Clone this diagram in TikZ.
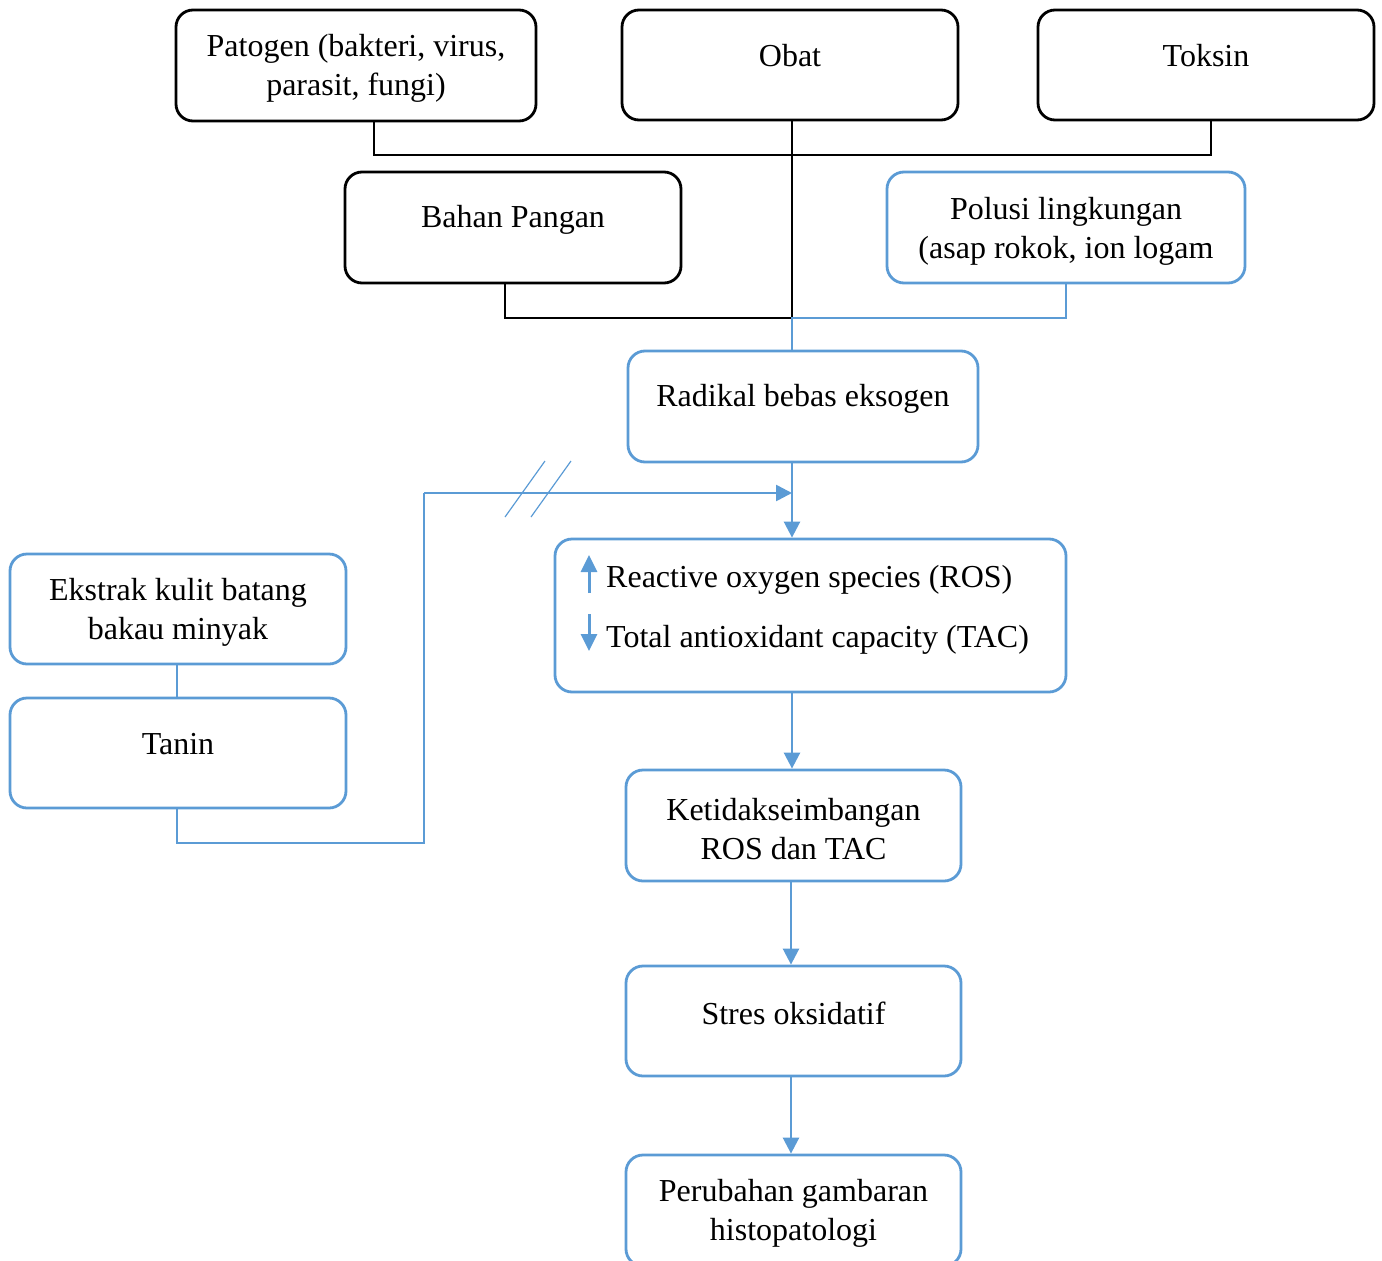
\documentclass[tikz,border=0pt]{standalone}
\usepackage{fontspec}
\setmainfont{Liberation Serif}
\usetikzlibrary{arrows.meta,calc}
\definecolor{wblue}{HTML}{5B9BD5}
\begin{document}
\begin{tikzpicture}[x=1pt,y=-1pt,
  box/.style={draw, rounded corners=17pt, line width=2.8pt, inner sep=0pt},
  bbox/.style={box, draw=black},
  ubox/.style={box, draw=wblue},
  txt/.style={inner sep=0pt, align=center, font=\fontsize{32}{39}\selectfont},
  link/.style={line width=1.4pt},
  flow/.style={draw=wblue, line width=2.6pt, -{Triangle[length=16pt,width=16pt]}},
  tick/.style={draw=wblue, line width=3pt, -{Triangle[length=17pt,width=16pt]}},
]
\useasboundingbox (0,0) rectangle (1382,1261);

% sources of exogenous radicals
\node[bbox, minimum width=360pt, minimum height=111pt] (patogen) at (356,65.5) {};
\node[txt] (patogenT) at (356,68.5) {Patogen (bakteri, virus,\\parasit, fungi)};
\node[bbox, minimum width=336pt, minimum height=110pt] (obat) at (790,65) {};
\node[txt] (obatT) at (790,56) {Obat};
\node[bbox, minimum width=336pt, minimum height=110pt] (toksin) at (1206,65) {};
\node[txt] (toksinT) at (1206,56) {Toksin};
\node[bbox, minimum width=336pt, minimum height=111pt] (bahan) at (513,227.5) {};
\node[txt] (bahanT) at (513,220) {Bahan Pangan};
\node[ubox, minimum width=358pt, minimum height=111pt] (polusi) at (1066,227.5) {};
\node[txt] (polusiT) at (1066,231.5) {Polusi lingkungan\\(asap rokok, ion logam};

% main chain
\node[ubox, minimum width=350pt, minimum height=111pt] (radikal) at (803,406.5) {};
\node[txt] (radikalT) at (803,399) {Radikal bebas eksogen};
\node[ubox, minimum width=511pt, minimum height=153pt] (ros) at (810.5,615.5) {};
\node[txt, anchor=west] (rosA) at (606,580) {Reactive oxygen species (ROS)};
\node[txt, anchor=west] (rosB) at (606,640) {Total antioxidant capacity (TAC)};
\node[ubox, minimum width=335pt, minimum height=111pt] (ketid) at (793.5,825.5) {};
\node[txt] (ketidT) at (793.5,829) {Ketidakseimbangan\\ROS dan TAC};
\node[ubox, minimum width=335pt, minimum height=110pt] (stres) at (793.5,1021) {};
\node[txt] (stresT) at (793.5,1013) {Stres oksidatif};
\node[ubox, minimum width=335pt, minimum height=111pt] (perubahan) at (793.5,1210.5) {};
\node[txt] (perubahanT) at (793.5,1213.5) {Perubahan gambaran\\histopatologi};

% inhibitor branch
\node[ubox, minimum width=336pt, minimum height=110pt] (ekstrak) at (178,609) {};
\node[txt] (ekstrakT) at (178,612.5) {Ekstrak kulit batang\\bakau minyak};
\node[ubox, minimum width=336pt, minimum height=110pt] (tanin) at (178,753) {};
\node[txt] (taninT) at (178,744) {Tanin};

% junctions
\coordinate (top) at (792,155);
\coordinate (mid) at (792,318);
\coordinate (corner) at (424,843);
\coordinate (bend) at (424,493);
\coordinate (hit) at (792,493);

% source connectors
\draw[link] ($(patogen.south)+(18,0)$) |- (top) -| ($(toksin.south)+(5,0)$);
\draw[link] ($(obat.south)+(2,0)$) -- (mid);
\draw[link] ($(bahan.south)+(-8,0)$) |- (mid);
\draw[link, wblue] (polusi.south) |- (mid) -- (radikal.north -| mid);

% flow arrows
\draw[flow] (radikal.south -| mid) -- (ros.north -| mid);
\draw[flow] (ros.south -| mid) -- (ketid.north -| mid);
\draw[flow] ([xshift=-2.5pt]ketid.south) -- ([xshift=-2.5pt]stres.north);
\draw[flow] ([xshift=-2.5pt]stres.south) -- ([xshift=-2.5pt]perubahan.north);

% tannin inhibition path
\draw[link, wblue] ($(ekstrak.south)+(-1,0)$) -- ($(tanin.north)+(-1,0)$);
\draw[link, wblue] ($(tanin.south)+(-1,0)$) |- (corner) -- (bend);
\draw[flow] (bend) -- (hit);
\draw[wblue, line width=1.2pt] (505,517) -- (545,461) (531,517) -- (571,461);

% up / down markers
\draw[tick] (589,593) -- (589,555);
\draw[tick] (589,614) -- (589,651);
\end{tikzpicture}
\end{document}
